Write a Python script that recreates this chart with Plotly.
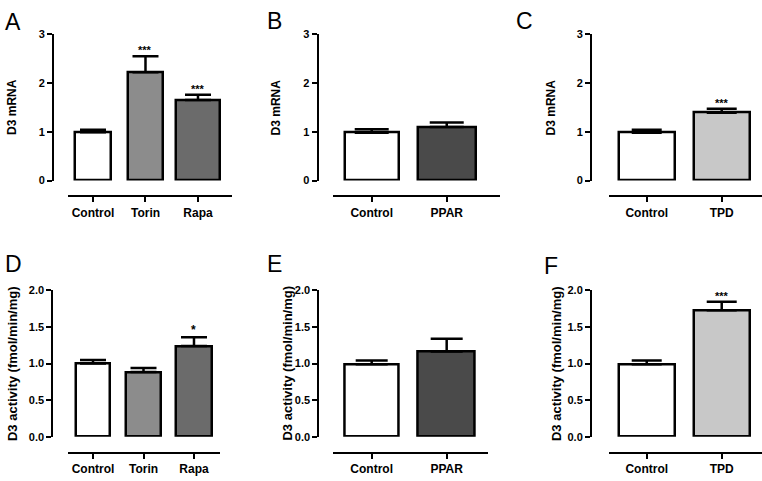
import plotly.graph_objects as go

W, H = 762, 481

# ---------------- data ----------------
cats_A = ["Control", "Torin", "Rapa"]
cats_B = ["Control", "PPAR"]
cats_C = ["Control", "TPD"]

mrna_A = [0.99, 2.22, 1.65]
mrna_A_sem = [0.05, 0.33, 0.11]
mrna_B = [0.98, 1.10]
mrna_B_sem = [0.07, 0.09]
mrna_C = [0.98, 1.39]
mrna_C_sem = [0.06, 0.08]

act_D = [1.00, 0.885, 1.24]
act_D_sem = [0.05, 0.055, 0.12]
act_E = [0.99, 1.165]
act_E_sem = [0.05, 0.175]
act_F = [0.99, 1.73]
act_F_sem = [0.05, 0.115]

stars_A = ["", "***", "***"]
stars_B = ["", ""]
stars_C = ["", "***"]
stars_D = ["", "", "*"]
stars_E = ["", ""]
stars_F = ["", "***"]

mrna_ticks = [0, 1, 2, 3]
act_ticks = [0.0, 0.5, 1.0, 1.5, 2.0]

colors_A = ["#ffffff", "#8c8c8c", "#6b6b6b"]
colors_B = ["#ffffff", "#4a4a4a"]
colors_C = ["#ffffff", "#c8c8c8"]

# ---------------- layout helpers ----------------
def px(x):
    return x / W

def py(y):
    return 1 - y / H

FONT = "Liberation Sans, Arial, sans-serif"

panels = [
    dict(letter="A", cats=cats_A, vals=mrna_A, sem=mrna_A_sem, stars=stars_A, colors=colors_A,
         ytitle="D3 mRNA", yticks=mrna_ticks, ymax=3, fmt="d",
         yx=53, ytop=29, ybot=179, xdom=(68, 232), xline=195, xr=(-0.476, 2.648),
         widths=[0.67, 0.67, 0.84], cap=13, tx=12.5, lxy=(13, 16), ts=12),
    dict(letter="B", cats=cats_B, vals=mrna_B, sem=mrna_B_sem, stars=stars_B, colors=colors_B,
         ytitle="D3 mRNA", yticks=mrna_ticks, ymax=3, fmt="d",
         yx=317.5, ytop=29, ybot=179, xdom=(333, 500), xline=195, xr=(-0.516, 1.71),
         widths=[0.715, 0.77], cap=17, tx=276, lxy=(274, 15), ts=12),
    dict(letter="C", cats=cats_C, vals=mrna_C, sem=mrna_C_sem, stars=stars_C, colors=colors_C,
         ytitle="D3 mRNA", yticks=mrna_ticks, ymax=3, fmt="d",
         yx=591, ytop=29, ybot=179, xdom=(609, 762), xline=195, xr=(-0.503, 1.537),
         widths=[0.747, 0.747], cap=15, tx=551, lxy=(524, 15), ts=12),
    dict(letter="D", cats=cats_A, vals=act_D, sem=act_D_sem, stars=stars_D, colors=colors_A,
         ytitle="D3 activity (fmol/min/mg)", yticks=act_ticks, ymax=2, fmt=".1f",
         yx=52.3, ytop=291.7, ybot=441.7, xdom=(68, 220), xline=458.3, xr=(-0.495, 2.515),
         widths=[0.67, 0.69, 0.71], cap=13, tx=12.5, lxy=(13, 265), ts=13),
    dict(letter="E", cats=cats_B, vals=act_E, sem=act_E_sem, stars=stars_E, colors=colors_B,
         ytitle="D3 activity (fmol/min/mg)", yticks=act_ticks, ymax=2, fmt=".1f",
         yx=318.3, ytop=291.7, ybot=441.7, xdom=(332.7, 488.3), xline=458.3, xr=(-0.52, 1.555),
         widths=[0.716, 0.76], cap=16, tx=288, lxy=(274, 265), ts=13),
    dict(letter="F", cats=cats_C, vals=act_F, sem=act_F_sem, stars=stars_F, colors=colors_C,
         ytitle="D3 activity (fmol/min/mg)", yticks=act_ticks, ymax=2, fmt=".1f",
         yx=591, ytop=291.7, ybot=441.7, xdom=(609, 762), xline=458.3, xr=(-0.503, 1.537),
         widths=[0.747, 0.747], cap=15, tx=556.5, lxy=(551, 267), ts=13),
]

fig = go.Figure()
annotations = []
layout_axes = {}

for i, p in enumerate(panels, start=1):
    xn = "x" if i == 1 else f"x{i}"
    yn = "y" if i == 1 else f"y{i}"
    fig.add_trace(go.Bar(
        x=p["cats"], y=p["vals"], width=p["widths"],
        marker=dict(color=p["colors"], line=dict(color="black", width=2.5)),
        error_y=dict(type="data", array=p["sem"], arrayminus=[0] * len(p["sem"]),
                     symmetric=False, color="black", thickness=2.5, width=p["cap"]),
        xaxis=xn, yaxis=yn, showlegend=False, cliponaxis=False, hoverinfo="skip",
    ))
    xkey = "xaxis" if i == 1 else f"xaxis{i}"
    ykey = "yaxis" if i == 1 else f"yaxis{i}"
    layout_axes[xkey] = dict(
        type="category", domain=[px(p["xdom"][0]), px(p["xdom"][1])],
        range=list(p["xr"]), anchor="free", position=py(p["xline"]),
        showline=True, linecolor="black", linewidth=2,
        ticks="outside", ticklen=5, tickwidth=2, tickcolor="black",
        showgrid=False, zeroline=False, fixedrange=True,
        tickfont=dict(family=FONT, size=12, color="black", weight="bold"),
    )
    layout_axes[ykey] = dict(
        domain=[py(p["ybot"]), py(p["ytop"])], range=[0, p["ymax"]],
        anchor="free", position=px(p["yx"]),
        tickvals=p["yticks"], tickformat=p["fmt"],
        showline=True, linecolor="black", linewidth=2,
        ticks="outside", ticklen=5, tickwidth=2, tickcolor="black",
        showgrid=False, zeroline=False, fixedrange=True,
        tickfont=dict(family=FONT, size=11, color="black", weight="bold"),
    )
    annotations.append(dict(
        text=p["ytitle"], textangle=-90, xref="paper", yref="paper",
        x=px(p["tx"]), y=py((p["ytop"] + p["ybot"]) / 2),
        xanchor="center", yanchor="middle", showarrow=False,
        font=dict(family=FONT, size=p["ts"], color="black", weight="bold"),
    ))
    annotations.append(dict(
        text=p["letter"], xref="paper", yref="paper",
        x=px(p["lxy"][0]), y=py(p["lxy"][1]), xanchor="center", yanchor="middle",
        showarrow=False, font=dict(family=FONT, size=23, color="black"),
    ))
    for c, v, s, st in zip(p["cats"], p["vals"], p["sem"], p["stars"]):
        if st:
            annotations.append(dict(
                text=st, xref=xn, yref=yn, x=c, y=v + s,
                xanchor="center", yanchor="bottom", yshift=-2, showarrow=False,
                font=dict(family=FONT, size=12 if st == "*" else 11, color="black",
                          weight="bold"),
            ))

fig.update_layout(
    width=W, height=H, autosize=False,
    margin=dict(l=0, r=0, t=0, b=0),
    paper_bgcolor="white", plot_bgcolor="white",
    annotations=annotations, bargap=0,
    **layout_axes,
)

fig.write_html(
    "out.html",
    config={"displayModeBar": False},
    post_script="document.body.style.margin='0';document.body.style.overflow='hidden';",
)
